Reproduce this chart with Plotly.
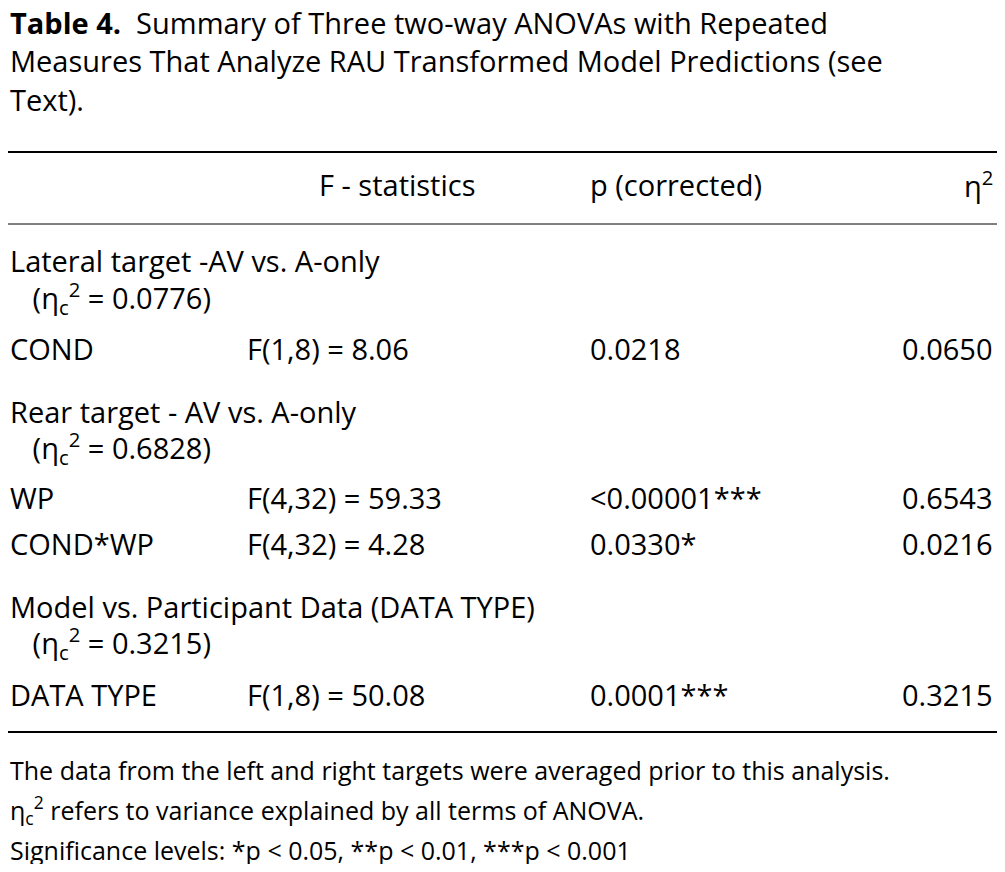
import plotly.graph_objects as go

title_lines = ["<b>Table 4.</b>  Summary of Three two-way ANOVAs with Repeated",
               "Measures That Analyze RAU Transformed Model Predictions (see",
               "Text)."]
headers = ["", "F - statistics", "p (corrected)", "η<sup>2</sup>"]
row_labels = ["Lateral target -AV vs. A-only", "   (η<sub>c</sub><sup>2</sup> = 0.0776)", "COND",
              "Rear target - AV vs. A-only", "   (η<sub>c</sub><sup>2</sup> = 0.6828)", "WP", "COND*WP",
              "Model vs. Participant Data (DATA TYPE)", "   (η<sub>c</sub><sup>2</sup> = 0.3215)", "DATA TYPE"]
f_stats = ["", "", "F(1,8) = 8.06", "", "", "F(4,32) = 59.33", "F(4,32) = 4.28", "", "", "F(1,8) = 50.08"]
p_vals = ["", "", "0.0218", "", "", "<0.00001***", "0.0330*", "", "", "0.0001***"]
eta2 = ["", "", "0.0650", "", "", "0.6543", "0.0216", "", "", "0.3215"]
footnotes = ["The data from the left and right targets were averaged prior to this analysis.",
             "η<sub>c</sub><sup>2</sup> refers to variance explained by all terms of ANOVA.",
             "Significance levels: *p < 0.05, **p < 0.01, ***p < 0.001"]

W, H = 989, 856
OFF = 8
FONT = "Open Sans"
fs = 29
fig = go.Figure()
ann = []
def t(x, y, s, anchor="left", size=fs):
    ann.append(dict(x=max(x, OFF), y=y, xref="x", yref="y", text=s, showarrow=False,
                    xanchor=anchor, yanchor="middle", font=dict(family=FONT, size=size, color="black")))

for i, s in enumerate(title_lines):
    t(0, 22 + 38.5 * i, s)
t(397, 184, headers[1], "center")
t(588, 184, headers[2])
t(995, 184, headers[3], "right")
row_y = [260, 298, 348, 411, 448, 497, 543, 606, 643, 694]
for y, a, b, c, d in zip(row_y, row_labels, f_stats, p_vals, eta2):
    t(0, y, a)
    if b: t(245, y, b)
    if c: t(588, y, c)
    if d: t(995, y, d, "right")
for i, s in enumerate(footnotes):
    t(0, 770 + 40 * i, s, size=25)

shapes = [dict(type="line", xref="x", yref="y", x0=OFF, x1=OFF + W, y0=y, y1=y,
               line=dict(color="black", width=w)) for y, w in [(152, 2), (224, 1), (732, 2)]]
fig.update_layout(width=W, height=H, margin=dict(l=0, r=0, t=0, b=0),
                  plot_bgcolor="white", paper_bgcolor="white", annotations=ann, shapes=shapes,
                  xaxis=dict(range=[OFF, OFF + W], visible=False),
                  yaxis=dict(range=[OFF + H, OFF], visible=False),
                  showlegend=False)
fig.write_html("out.html")
